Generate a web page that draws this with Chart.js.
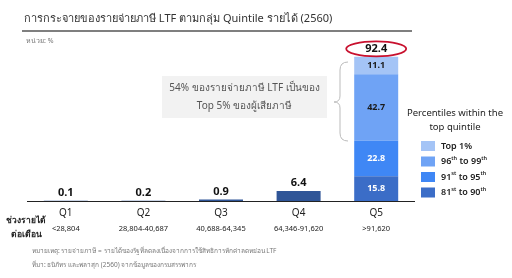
<!DOCTYPE html>
<html>
<head>
<script src="https://cdn.jsdelivr.net/npm/chart.js@4.4.0/dist/chart.umd.min.js"></script>
<style>
  body { margin: 0; background: #fff; }
  .chartBox { width: 512px; height: 278px; }
</style>
</head>
<body>
<div class="chartBox"><canvas id="ltfChart"></canvas></div>
<script>
// data
const categories = ['Q1', 'Q2', 'Q3', 'Q4', 'Q5'];
const incomeRanges = ['<28,804', '28,804-40,687', '40,688-64,345', '64,346-91,620', '>91,620'];
const quintileShare = [0.1, 0.2, 0.9, 6.4, null];
const p81to90 = [null, null, null, null, 15.8];
const p91to95 = [null, null, null, null, 22.8];
const p96to99 = [null, null, null, null, 42.7];
const pTop1 = [null, null, null, null, 11.1];
const legendLabels = ['Top 1%', '96^th to 99^th', '91^st to 95^th', '81^st to 90^th'];

const FONT = '"Noto Sans", "DejaVu Sans", sans-serif';

function font(size, weight) {
  return (weight || 'normal') + ' ' + size + 'px ' + FONT;
}

// text with ^sup parts
function drawSup(ctx, text, x, y, size) {
  const parts = text.split(/(\^\w+)/);
  parts.forEach(function (p) {
    if (!p) return;
    if (p[0] === '^') {
      ctx.font = font(size * 0.62, '600');
      ctx.fillText(p.slice(1), x, y - size * 0.35);
      x += ctx.measureText(p.slice(1)).width;
    } else {
      ctx.font = font(size, '600');
      ctx.fillText(p, x, y);
      x += ctx.measureText(p).width;
    }
  });
}

const extras = {
  id: 'extras',
  afterDatasetsDraw(chart) {
    const ctx = chart.ctx;
    const area = chart.chartArea;
    const xs = chart.scales.x;
    ctx.save();

    // title + rule
    ctx.fillStyle = '#333';
    ctx.font = font(11);
    ctx.textBaseline = 'middle';
    ctx.textAlign = 'left';
    ctx.fillText('การกระจายของรายจ่ายภาษี LTF ตามกลุ่ม Quintile รายได้ (2560)', 24, 19);
    ctx.strokeStyle = '#555';
    ctx.lineWidth = 1.5;
    ctx.beginPath();
    ctx.moveTo(22, 31);
    ctx.lineTo(412, 31);
    ctx.stroke();
    ctx.fillStyle = '#777';
    ctx.font = font(7);
    ctx.fillText('หน่วย: %', 26, 41);

    // baseline
    ctx.strokeStyle = '#222';
    ctx.lineWidth = 1.2;
    ctx.beginPath();
    ctx.moveTo(area.left, area.bottom + 0.5);
    ctx.lineTo(area.right, area.bottom + 0.5);
    ctx.stroke();

    // value labels Q1-Q4
    const base = chart.getDatasetMeta(0);
    ctx.textAlign = 'center';
    ctx.fillStyle = '#111';
    ctx.font = font(11, 'bold');
    quintileShare.forEach(function (v, i) {
      if (v == null) return;
      const el = base.data[i];
      ctx.fillText(v.toFixed(1), el.x, el.y - 8);
    });

    // labels inside Q5 segments
    const segColors = ['#fff', '#fff', '#1a1a1a', '#1a1a1a'];
    [p81to90, p91to95, p96to99, pTop1].forEach(function (arr, k) {
      const el = chart.getDatasetMeta(k + 1).data[4];
      ctx.fillStyle = segColors[k];
      ctx.font = font(9, 'bold');
      ctx.fillText(arr[4].toFixed(1), el.x, (el.y + el.base) / 2);
    });

    // total with red ellipse
    const total = p81to90[4] + p91to95[4] + p96to99[4] + pTop1[4];
    const topEl = chart.getDatasetMeta(4).data[4];
    ctx.fillStyle = '#111';
    ctx.font = font(11, 'bold');
    ctx.fillText(total.toFixed(1), topEl.x, topEl.y - 8);
    ctx.strokeStyle = '#c8102e';
    ctx.lineWidth = 1.8;
    ctx.beginPath();
    ctx.ellipse(topEl.x, topEl.y - 8, 30, 7.5, 0, 0, Math.PI * 2);
    ctx.stroke();

    // x labels
    categories.forEach(function (c, i) {
      const x = xs.getPixelForValue(i);
      ctx.fillStyle = '#222';
      ctx.font = font(10);
      ctx.fillText(c, x, 213);
      ctx.font = font(7.5);
      ctx.fillText(incomeRanges[i], x, 229);
    });
    ctx.font = font(8.5, 'bold');
    ctx.fillText('ช่วงรายได้', 26, 221);
    ctx.fillText('ต่อเดือน', 26, 235);

    // notes
    ctx.textAlign = 'left';
    ctx.fillStyle = '#777';
    ctx.font = font(6.5);
    ctx.fillText('หมายเหตุ: รายจ่ายภาษี = รายได้ของรัฐที่ลดลงเนื่องจากการใช้สิทธิการหักค่าลดหย่อน LTF', 32, 251);
    ctx.fillText('ที่มา: ธนิภัทร และพลาสุก (2560) จากข้อมูลของกรมสรรพากร', 32, 265);

    // callout box
    ctx.fillStyle = '#f2f2f2';
    ctx.fillRect(162, 76, 165, 42);
    ctx.fillStyle = '#555';
    ctx.textAlign = 'center';
    ctx.font = font(10);
    ctx.fillText('54% ของรายจ่ายภาษี LTF เป็นของ', 244.5, 88);
    ctx.fillText('Top 5% ของผู้เสียภาษี', 244.5, 106);

    // brace
    ctx.strokeStyle = '#bbb';
    ctx.lineWidth = 1;
    ctx.beginPath();
    ctx.moveTo(348, 62);
    ctx.quadraticCurveTo(340, 62, 340, 70);
    ctx.lineTo(340, 96);
    ctx.quadraticCurveTo(340, 102, 334, 102);
    ctx.quadraticCurveTo(340, 102, 340, 108);
    ctx.lineTo(340, 133);
    ctx.quadraticCurveTo(340, 141, 348, 141);
    ctx.stroke();

    // legend
    ctx.fillStyle = '#222';
    ctx.font = font(9.5);
    ctx.fillText('Percentiles within the', 455, 113);
    ctx.fillText('top quintile', 455, 127);
    ctx.textAlign = 'left';
    const legendSets = [4, 3, 2, 1];
    legendLabels.forEach(function (lab, k) {
      const y = 146 + k * 15.5;
      ctx.fillStyle = chart.data.datasets[legendSets[k]].backgroundColor;
      ctx.fillRect(421, y - 5, 14, 10);
      ctx.fillStyle = '#222';
      drawSup(ctx, lab, 441, y, 9);
    });

    ctx.restore();
  }
};

const data = {
  labels: categories,
  datasets: [
    { label: 'Quintile', data: quintileShare, backgroundColor: '#2F5597' },
    { label: '81st to 90th', data: p81to90, backgroundColor: '#3B6DC7' },
    { label: '91st to 95th', data: p91to95, backgroundColor: '#3F87F5' },
    { label: '96th to 99th', data: p96to99, backgroundColor: '#6FA3F5' },
    { label: 'Top 1%', data: pTop1, backgroundColor: '#A4C4F6' }
  ]
};

const config = {
  type: 'bar',
  data,
  options: {
    responsive: true,
    maintainAspectRatio: false,
    animation: false,
    layout: { padding: { top: 45, bottom: 77, left: 27, right: 97 } },
    datasets: { bar: { categoryPercentage: 1, barPercentage: 0.567, borderWidth: 0 } },
    plugins: { legend: { display: false }, tooltip: { enabled: false } },
    scales: {
      x: { stacked: true, display: false },
      y: { stacked: true, display: false, min: 0, max: 100 }
    }
  },
  plugins: [extras]
};

new Chart(document.getElementById('ltfChart'), config);
</script>
</body>
</html>
